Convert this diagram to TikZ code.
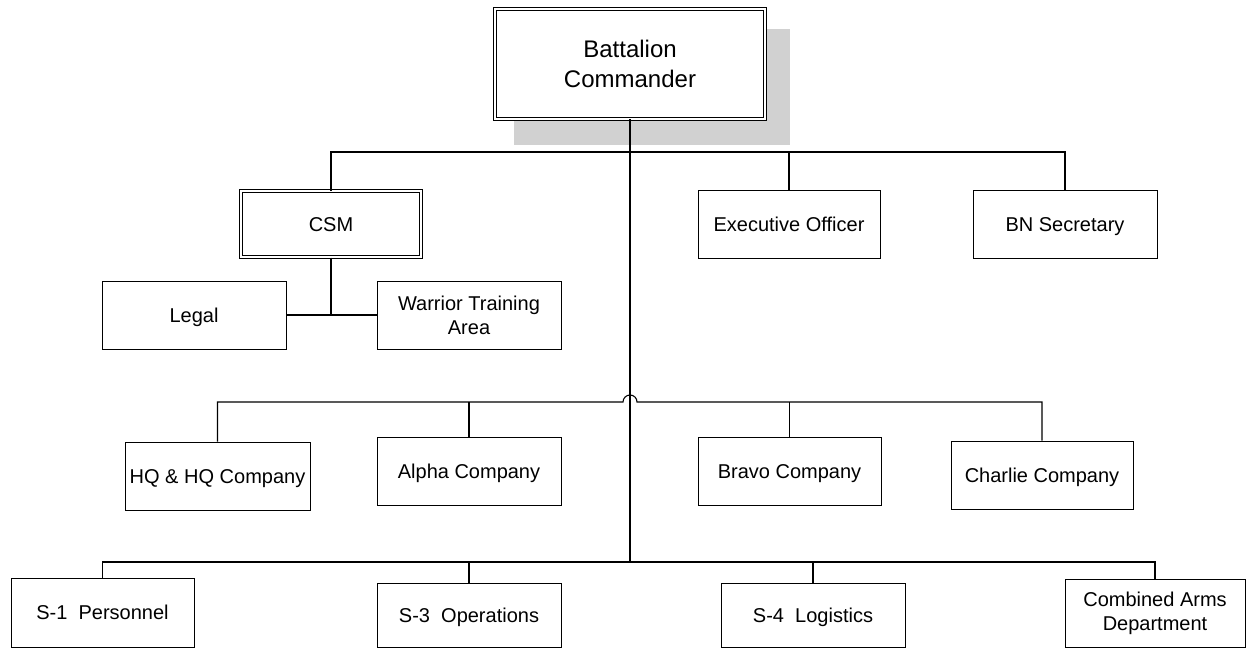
\documentclass[tikz,border=0pt]{standalone}
\usepackage{fontspec}
\setmainfont{Liberation Sans}
\begin{document}
\begin{tikzpicture}[x=1pt,y=-1pt,
  box/.style={draw, line width=1pt, inner sep=0pt, align=center, fill=white,
    font=\fontsize{20}{24}\selectfont, minimum width=184pt, minimum height=68pt},
  one/.style={box, text height=14.3pt, text depth=0pt},
  dbox/.style={box, double, double distance=2pt, line width=0.8pt},
  conn/.style={line width=1.1pt},
  trunk/.style={line width=2pt}]
\useasboundingbox (0,0) rectangle (1247,648);
% shadow
\fill[black!18] (514,29) rectangle (790,145);
% nodes
\node[dbox, minimum width=270pt, minimum height=110pt, font=\fontsize{24}{30}\selectfont] (cmd) at (630,64) {Battalion\\Commander};
\node[dbox, one, minimum width=180pt, minimum height=66pt] (csm) at (331,224) {CSM};
\node[one, minimum width=182pt] (xo) at (789,224) {Executive Officer};
\node[one] (bns) at (1065,224) {BN Secretary};
\node[one] (legal) at (194,315) {Legal};
\node[box] (wta) at (469,315) {Warrior Training\\Area};
\node[one, minimum width=185pt] (hq) at (217.5,476) {HQ \& HQ Company};
\node[one] (alpha) at (469,471) {Alpha Company};
\node[one, minimum width=183pt] (bravo) at (789.5,471) {Bravo Company};
\node[one, minimum width=182pt] (charlie) at (1042,475) {Charlie Company};
\node[one, minimum width=183pt, minimum height=69pt] (s1) at (102.5,612.5) {S-1\ \ Personnel};
\node[one, minimum height=64pt] (s3) at (469,615) {S-3\ \ Operations};
\node[one, minimum height=64pt] (s4) at (813,615) {S-4\ \ Logistics};
\node[box, minimum width=180pt] (cad) at (1155,613) {Combined Arms\\Department};
% coordinates
\coordinate (t1) at (630,152);
\coordinate (j) at (630,402);
\coordinate (t2) at (630,562);
% connectors
\draw[conn] (cmd.south) -- (t1);
\draw[conn] (csm.north) |- (bns.north |- t1) -- (bns.north);
\draw[conn] (xo.north) -- (xo.north |- t1);
\draw[conn] (csm.south) -- (csm.south |- legal.east);
\draw[conn] (legal.east) -- (wta.west);
\draw[conn] (hq.north) |- ([xshift=-7pt]j) arc[start angle=180, end angle=0, radius=7pt] -| (charlie.north);
\draw[conn] (alpha.north) -- (alpha.north |- j);
\draw[conn] (bravo.north) -- (bravo.north |- j);
\draw[conn] (s1.north) |- (t2) -| (cad.north);
\draw[conn] (s3.north) -- (s3.north |- t2);
\draw[conn] (s4.north) -- (s4.north |- t2);
\draw[trunk] (t1) -- (t2);
\end{tikzpicture}
\end{document}
